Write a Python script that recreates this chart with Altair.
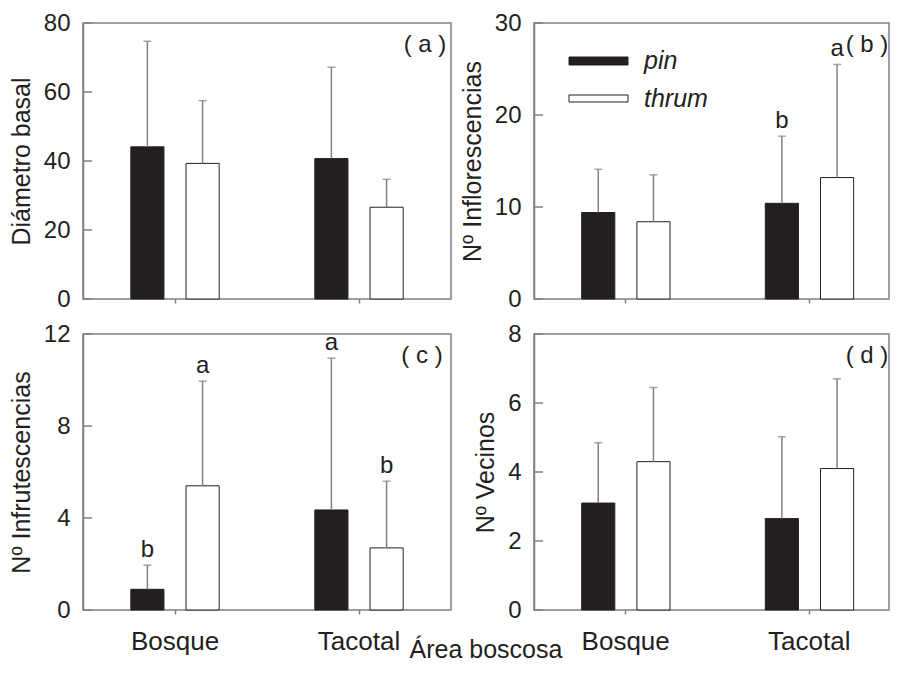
import altair as alt
import pandas as pd

areas = ["Bosque", "Tacotal"]
morphs = ["pin", "thrum"]

# panel (a) Diámetro basal
a_pin = [44.1, 40.7]
a_thrum = [39.3, 26.6]
a_pin_up = [74.7, 67.2]
a_thrum_up = [57.5, 34.7]

# panel (b) Nº Inflorescencias
b_pin = [9.4, 10.4]
b_thrum = [8.4, 13.2]
b_pin_up = [14.1, 17.7]
b_thrum_up = [13.5, 25.5]
b_pin_let = ["", "b"]
b_thrum_let = ["", "a"]

# panel (c) Nº Infrutescencias
c_pin = [0.9, 4.35]
c_thrum = [5.4, 2.7]
c_pin_up = [1.95, 10.95]
c_thrum_up = [9.95, 5.6]
c_pin_let = ["b", "a"]
c_thrum_let = ["a", "b"]

# panel (d) Nº Vecinos
d_pin = [3.1, 2.65]
d_thrum = [4.3, 4.1]
d_pin_up = [4.85, 5.02]
d_thrum_up = [6.45, 6.7]

FONT = "Liberation Sans"
GRAY = "#808080"
INK = "#231f20"


def frame(pin, thrum, pin_up, thrum_up, pin_let=None, thrum_let=None):
    rows = []
    pin_let = pin_let or ["", ""]
    thrum_let = thrum_let or ["", ""]
    for i, ar in enumerate(areas):
        rows.append({"area": ar, "morph": "pin", "mean": pin[i], "upper": pin_up[i], "letter": pin_let[i]})
        rows.append({"area": ar, "morph": "thrum", "mean": thrum[i], "upper": thrum_up[i], "letter": thrum_let[i]})
    return pd.DataFrame(rows)


def fill_enc():
    return alt.Fill("morph:N", scale=alt.Scale(domain=morphs, range=[INK, "white"]), legend=None)


def panel(df, ymax, ticks, title, label, show_labels, width, xscale, labx,
          legend=False, xtitle=False):
    x = alt.X("area:N", sort=areas, scale=xscale,
              axis=alt.Axis(title=None, labels=show_labels, ticks=True, tickSize=4, domain=False,
                            labelPadding=14, labelAngle=0, labelFontSize=26))
    xo = alt.XOffset("morph:N", sort=morphs,
                     scale=alt.Scale(domain=morphs, paddingInner=0.4, paddingOuter=0))
    yscale = alt.Scale(domain=[0, ymax], nice=False, zero=True)
    yaxis = alt.Axis(values=ticks, title=title, tickSize=0, labelPadding=13,
                     titlePadding=9, grid=False)
    base = alt.Chart(df)
    bars = base.mark_bar(stroke=INK, strokeWidth=1).encode(
        x=x, xOffset=xo,
        y=alt.Y("mean:Q", scale=yscale, axis=yaxis),
        fill=fill_enc(),
    )
    err = base.mark_rule(color=GRAY, strokeWidth=1.5).encode(
        x=x, xOffset=xo, y=alt.Y("mean:Q", scale=yscale, axis=yaxis), y2="upper:Q")
    cap = base.mark_tick(orient="horizontal", size=8, thickness=1.5, color=GRAY).encode(
        x=x, xOffset=xo, y=alt.Y("upper:Q", scale=yscale, axis=yaxis))
    letters = base.mark_text(fontSize=24, font=FONT, color=INK, baseline="alphabetic", dy=-8).encode(
        x=x, xOffset=xo, y=alt.Y("upper:Q", scale=yscale, axis=yaxis), text="letter:N")
    tdf = pd.DataFrame({"upper": ticks})
    inner = alt.Chart(tdf).mark_rule(color=GRAY, strokeWidth=1.5).encode(
        y=alt.Y("upper:Q", scale=yscale, axis=yaxis), x=alt.value(0), x2=alt.value(9))
    lab = alt.Chart(pd.DataFrame({"t": [label]})).mark_text(
        fontSize=24, font=FONT, color=INK).encode(
        text="t:N", x=alt.value(labx), y=alt.value(22))
    layers = [bars, err, cap, letters, inner, lab]
    if legend:
        lr1 = alt.Chart(pd.DataFrame({"morph": ["pin"]})).mark_rect(stroke=INK, strokeWidth=1).encode(
            x=alt.value(35), x2=alt.value(94), y=alt.value(34), y2=alt.value(42), fill=fill_enc())
        lr2 = alt.Chart(pd.DataFrame({"morph": ["thrum"]})).mark_rect(stroke=INK, strokeWidth=1).encode(
            x=alt.value(35), x2=alt.value(94), y=alt.value(72), y2=alt.value(79), fill=fill_enc())
        lt1 = alt.Chart(pd.DataFrame({"morph": ["pin"]})).mark_text(
            fontSize=25, font=FONT, fontStyle="italic", color=INK, align="left").encode(
            text="morph:N", x=alt.value(110), y=alt.value(38))
        lt2 = alt.Chart(pd.DataFrame({"morph": ["thrum"]})).mark_text(
            fontSize=25, font=FONT, fontStyle="italic", color=INK, align="left").encode(
            text="morph:N", x=alt.value(110), y=alt.value(76))
        layers += [lr1, lr2, lt1, lt2]
    if xtitle:
        xt = alt.Chart(pd.DataFrame({"t": ["Área boscosa"]})).mark_text(
            fontSize=25, font=FONT, color=INK, baseline="alphabetic").encode(
            text="t:N", x=alt.value(403), y=alt.value(324))
        layers.append(xt)
    return alt.layer(*layers).properties(width=width, height=276)


def left_scale():
    return alt.Scale(domain=areas, paddingInner=0.52, paddingOuter=0.26)


def right_scale():
    return alt.Scale(domain=areas, paddingInner=0.5207, paddingOuter=0.2271, align=0.572)


pa = panel(frame(a_pin, a_thrum, a_pin_up, a_thrum_up), 80, [0, 20, 40, 60, 80],
           "Diámetro basal", "( a )", False, 368, left_scale(), 342)
pb = panel(frame(b_pin, b_thrum, b_pin_up, b_thrum_up, b_pin_let, b_thrum_let), 30, [0, 10, 20, 30],
           "Nº Inflorescencias", "( b )", False, 355, right_scale(), 333, legend=True)
pc = panel(frame(c_pin, c_thrum, c_pin_up, c_thrum_up, c_pin_let, c_thrum_let), 12, [0, 4, 8, 12],
           "Nº Infrutescencias", "( c )", True, 368, left_scale(), 339, xtitle=True)
pd_ = panel(frame(d_pin, d_thrum, d_pin_up, d_thrum_up), 8, [0, 2, 4, 6, 8],
            "Nº Vecinos", "( d )", True, 355, right_scale(), 333)

chart = alt.concat(pa, pb, pc, pd_, columns=2, spacing={"row": 35, "column": 83},
                   bounds="flush").properties(
    padding={"left": 0, "top": 2, "right": 0, "bottom": 0},
).configure_view(stroke=GRAY, strokeWidth=1.5).configure_axis(
    domainColor=GRAY, domainWidth=1.5, tickColor=GRAY, tickWidth=1.5,
    labelFont=FONT, labelFontSize=24, labelColor=INK,
    titleFont=FONT, titleFontSize=25, titleFontWeight="normal", titleColor=INK,
)

chart.save("out.html", embed_options={"renderer": "svg", "actions": False})
